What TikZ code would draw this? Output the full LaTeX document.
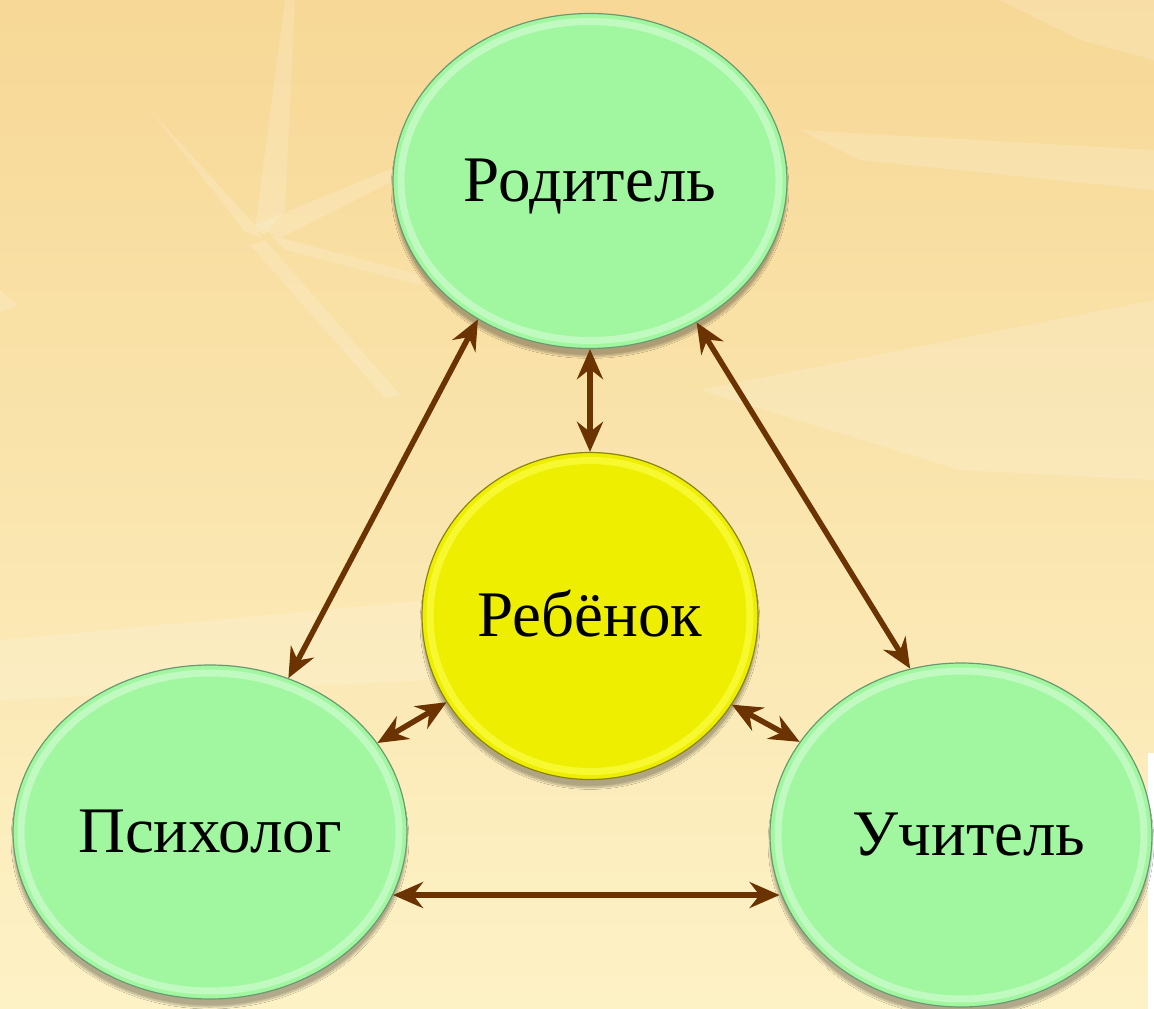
\documentclass[tikz,border=0pt]{standalone}
\usepackage{fontspec}
\setmainfont{Liberation Serif}
\usetikzlibrary{shapes.geometric,arrows.meta,calc,shadows.blur}
\definecolor{bgA}{HTML}{F7D896}
\definecolor{bgM}{HTML}{FBE9B6}
\definecolor{bgB}{HTML}{FDF2C6}
\definecolor{greenfill}{HTML}{A0F7A0}
\definecolor{greenrim}{HTML}{D6FCD6}
\definecolor{greenedge}{HTML}{6A9A72}
\definecolor{yelfill}{HTML}{EEEE00}
\definecolor{yelrim}{HTML}{FFFF50}
\definecolor{yeledge}{HTML}{8A8410}
\definecolor{arrowbrown}{HTML}{6B3300}
\tikzset{
  rim/.style={path picture={
    \draw[#1, line width=7pt, opacity=0.6]
      let \p1=(path picture bounding box.north east),
          \p2=(path picture bounding box.south west) in
      ($(\p1)!0.5!(\p2)$) ellipse [x radius={(\x1-\x2)/2-8pt}, y radius={(\y1-\y2)/2-8pt}];}},
  bubble/.style={ellipse, inner sep=0pt, text height=41pt, text depth=0pt,
    font=\fontsize{65}{65}\selectfont, line width=1.2pt,
    blur shadow={shadow xshift=0pt, shadow yshift=-8pt, shadow blur steps=10, shadow opacity=30}},
  greenbubble/.style={bubble, fill=greenfill, draw=greenedge, rim=greenrim},
  yellowbubble/.style={bubble, fill=yelfill, draw=yeledge, rim=yelrim},
  link/.style={draw=arrowbrown, line width=5.5pt,
    {Stealth[length=30pt,width=26pt,inset=10pt]}-{Stealth[length=30pt,width=26pt,inset=10pt]}},
  streak/.style={fill=white, opacity=0.16, draw=none}
}
\begin{document}
\begin{tikzpicture}[x=1pt,y=-1pt]
\useasboundingbox (0,0) rectangle (1154,1009);
% background
\shade[top color=bgA, middle color=bgM, bottom color=bgB] (0,0) rectangle (1154,1009);
\fill[streak] (285,0) -- (295,0) -- (285,210) -- (265,235) -- (255,230) -- cycle;
\fill[streak] (150,110) -- (255,225) -- (262,238) -- (245,232) -- cycle;
\fill[streak] (255,225) -- (400,165) -- (405,175) -- (280,238) -- cycle;
\fill[streak] (270,235) -- (420,275) -- (420,285) -- (285,250) -- cycle;
\fill[streak] (265,240) -- (400,395) -- (385,398) -- (250,245) -- cycle;
\fill[streak] (0,290) -- (18,305) -- (0,312) -- cycle;
\fill[streak] (700,390) -- (1154,300) -- (1154,480) -- (960,470) -- cycle;
\fill[streak] (800,130) -- (1154,150) -- (1154,190) -- (860,160) -- cycle;
\fill[streak] (0,640) -- (430,600) -- (430,680) -- (0,700) -- cycle;
\fill[streak] (1000,0) -- (1154,0) -- (1154,60) -- (1080,40) -- cycle;
\fill[white] (1148,753) rectangle (1154,1009);
% nodes
\node[greenbubble, minimum width=394pt, minimum height=335pt] (parent) at (590,181) {Родитель};
\node[yellowbubble, minimum width=336pt, minimum height=327pt] (child) at (590,616) {Ребёнок};
\node[greenbubble, minimum width=394pt, minimum height=334pt] (psych) at (210,832) {Психолог};
\node[greenbubble, minimum width=382pt, minimum height=344pt] (teacher) at (961,835) {\hspace*{16pt}Учитель};
% connectors
\draw[link] (parent.270) -- (child.90);
\draw[link] (parent.231.8) -- (psych.63.1);
\draw[link] (parent.307.7) -- (teacher.107.4);
\draw[link] (child.211) -- (psych.28.3);
\draw[link] (child.328.5) -- (teacher.150);
\draw[link] (psych.341.7) -- (psych.341.7 -| teacher.197.6);
\end{tikzpicture}
\end{document}
